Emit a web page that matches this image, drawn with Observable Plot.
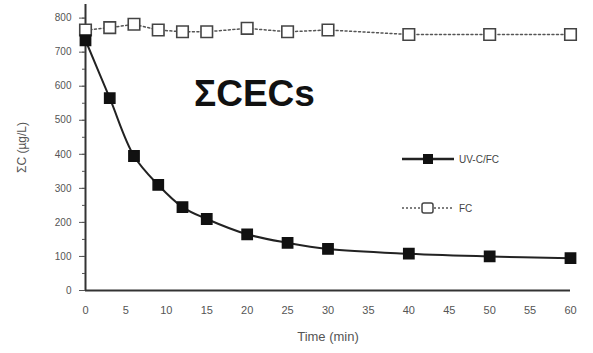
<!DOCTYPE html>
<html><head><meta charset="utf-8">
<script src="https://cdn.jsdelivr.net/npm/d3@7"></script>
<script src="https://cdn.jsdelivr.net/npm/@observablehq/plot@0.6"></script>
<style>
body{margin:0;background:#fff;font-family:"Liberation Sans",Arial,sans-serif;}
#wrap{position:relative;width:593px;height:353px;}
#title{position:absolute;left:194px;top:73px;font-size:37px;font-weight:bold;color:#111;font-family:"Liberation Sans",Arial,sans-serif;}
.leg{position:absolute;font-size:10px;color:#444;display:flex;align-items:center;}
</style></head>
<body><div id="wrap"><div id="chart"></div>
<div id="title">ΣCECs</div>
<div class="leg" style="left:400px;top:151px"><svg width="56" height="16"><line x1="2" y1="8" x2="54" y2="8" stroke="#222" stroke-width="2.5"/><rect x="23" y="3" width="10" height="10" fill="#111"/></svg><span style="margin-left:3px">UV-C/FC</span></div>
<div class="leg" style="left:400px;top:200px"><svg width="56" height="16"><line x1="2" y1="8" x2="54" y2="8" stroke="#555" stroke-width="1.5" stroke-dasharray="2,2"/><rect x="22" y="3" width="11" height="10" rx="2" fill="#fff" stroke="#444" stroke-width="1.5"/></svg><span style="margin-left:3px">FC</span></div>
</div>
<script>
const times = [0, 3, 6, 9, 12, 15, 20, 25, 30, 40, 50, 60];
const uvcFc = [735, 565, 395, 310, 245, 210, 165, 140, 122, 108, 100, 95];
const fc = [765, 772, 782, 765, 760, 760, 770, 760, 765, 752, 752, 752];
const yTicks = [0, 100, 200, 300, 400, 500, 600, 700, 800];
const xTicks = [0, 5, 10, 15, 20, 25, 30, 35, 40, 45, 50, 55, 60];
const minorY = d3.range(0, 801, 50);

const dUV = times.map((t, i) => ({t, v: uvcFc[i]}));
const dFC = times.map((t, i) => ({t, v: fc[i]}));

const chart = Plot.plot({
  width: 593, height: 353,
  marginLeft: 85, marginRight: 23, marginTop: 4, marginBottom: 63,
  style: {fontFamily: "Liberation Sans, Arial, sans-serif", fontSize: "10px", color: "#555", background: "#fff"},
  x: {type: "linear", domain: [0, 60]},
  y: {type: "linear", domain: [0, 840]},
  marks: [
    Plot.ruleY([0], {stroke: "#333", strokeWidth: 2}),
    Plot.ruleX([0], {y1: 0, y2: 840, stroke: "#333", strokeWidth: 2}),
    Plot.axisY({ticks: minorY, tickSize: 3, text: null, label: null}),
    Plot.axisY({ticks: yTicks, tickSize: 6, tickPadding: 8, label: null, fontSize: 10}),
    Plot.axisY({ticks: [], label: "ΣC (µg/L)", labelAnchor: "center", labelArrow: "none", labelOffset: 68, fontSize: 12}),
    Plot.axisX({ticks: xTicks, tickSize: 0, tickPadding: 16, label: null, fontSize: 11}),
    Plot.axisX({ticks: [], label: "Time (min)", labelAnchor: "center", labelArrow: "none", labelOffset: 50, fontSize: 13}),
    Plot.line(dFC, {x: "t", y: "v", stroke: "#555", strokeWidth: 1.5, strokeDasharray: "2,2.5"}),
    Plot.line(dUV, {x: "t", y: "v", stroke: "#222", strokeWidth: 2, curve: "catmull-rom"}),
    Plot.dot(dFC, {x: "t", y: "v", symbol: "square", r: 6.5, fill: "#fff", stroke: "#444", strokeWidth: 1.6}),
    Plot.dot(dUV, {x: "t", y: "v", symbol: "square", r: 5.8, fill: "#111", stroke: "#111"})
  ]
});
document.getElementById("chart").appendChild(chart);
</script>
</body></html>
